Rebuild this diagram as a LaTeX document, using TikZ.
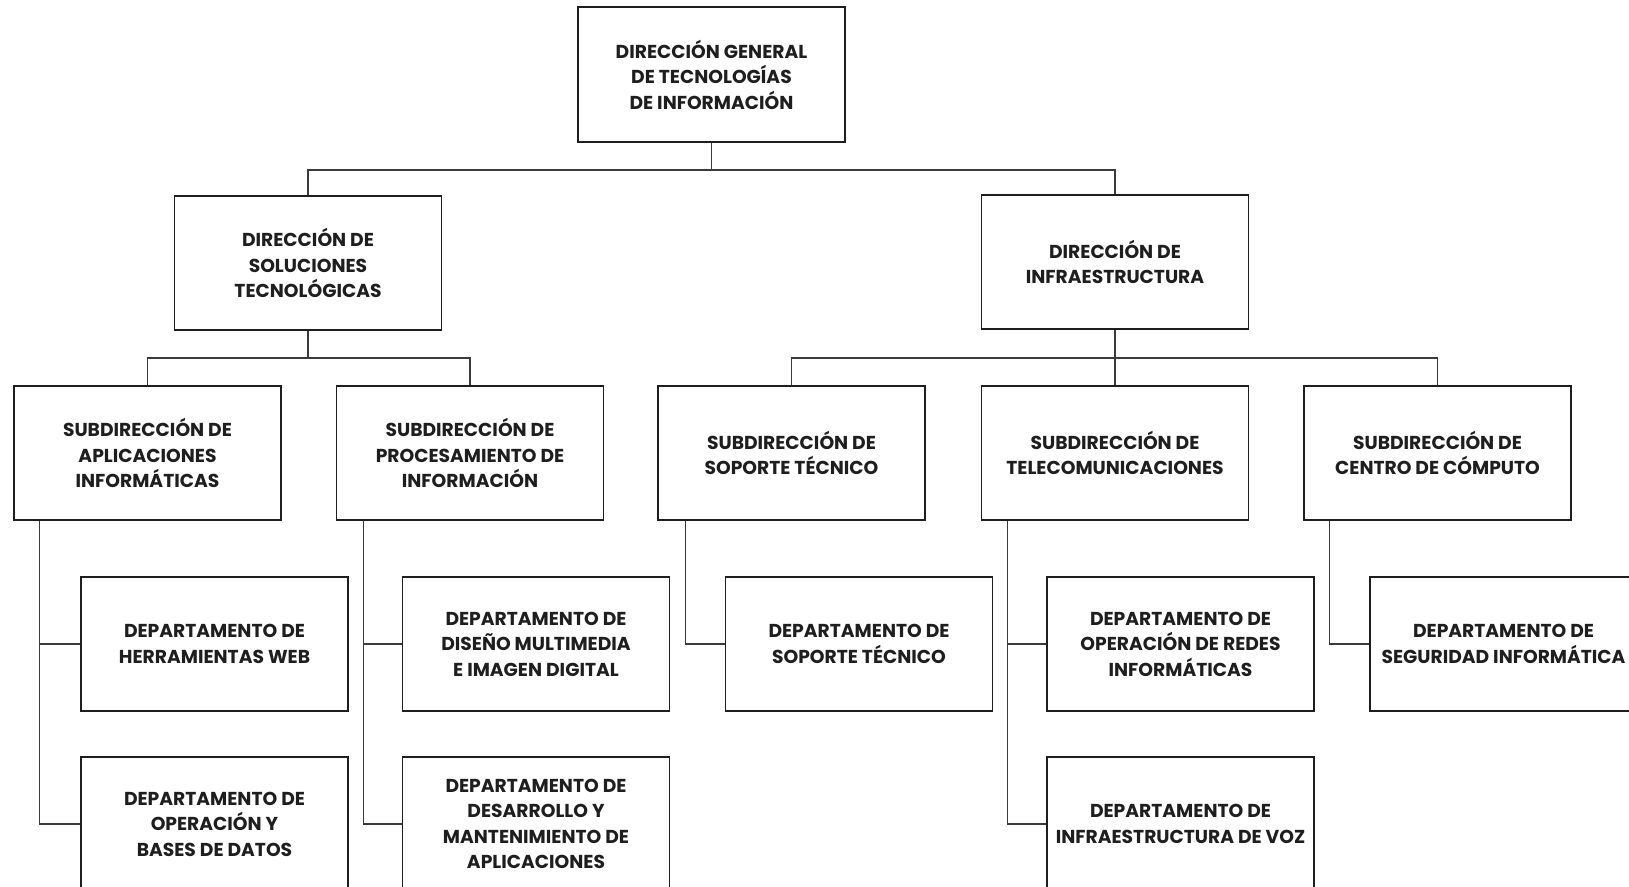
\documentclass[tikz,border=0pt]{standalone}
\usepackage{fontspec}
\setmainfont{Poppins}
\usetikzlibrary{calc}
\definecolor{ink}{HTML}{1E1E1E}
\definecolor{wire}{HTML}{3A3A3A}
\tikzset{
  box/.style={draw=ink, line width=1.5pt, minimum width=267pt, minimum height=134pt,
    inner sep=0pt, align=center, text=ink,
    font=\fontsize{18.7}{25.5}\selectfont\bfseries},
  wire/.style={draw=wire, line width=1.4pt}
}
\begin{document}
\begin{tikzpicture}[x=1pt,y=-1pt]
\useasboundingbox (0,0) rectangle (1629,886);
\clip (0,0) rectangle (1629,886);
\fill[white] (0,0) rectangle (1629,886);
% level 1
\node[box, minimum height=135pt] (top) at (711.5,74.5) {DIRECCIÓN GENERAL\\DE TECNOLOGÍAS\\DE INFORMACIÓN};
% level 2
\node[box] (dst) at (308,263) {DIRECCIÓN DE\\SOLUCIONES\\TECNOLÓGICAS};
\node[box] (din) at (1115,262) {DIRECCIÓN DE\\INFRAESTRUCTURA};
% level 3
\node[box] (s1) at (147.5,453) {SUBDIRECCIÓN DE\\APLICACIONES\\INFORMÁTICAS};
\node[box] (s2) at (470,453) {SUBDIRECCIÓN DE\\PROCESAMIENTO DE\\INFORMACIÓN};
\node[box] (s3) at (791.5,453) {SUBDIRECCIÓN DE\\SOPORTE TÉCNICO};
\node[box] (s4) at (1115,453) {SUBDIRECCIÓN DE\\TELECOMUNICACIONES};
\node[box] (s5) at (1437.5,453) {SUBDIRECCIÓN DE\\CENTRO DE CÓMPUTO};
% departments
\node[box] (d11) at (214.5,644) {DEPARTAMENTO DE\\HERRAMIENTAS WEB};
\node[box] (d12) at (214.5,824) {DEPARTAMENTO DE\\OPERACIÓN Y\\BASES DE DATOS};
\node[box] (d21) at (536,644) {DEPARTAMENTO DE\\DISEÑO MULTIMEDIA\\E IMAGEN DIGITAL};
\node[box] (d22) at (536,824) {DEPARTAMENTO DE\\DESARROLLO Y\\MANTENIMIENTO DE\\APLICACIONES};
\node[box] (d31) at (859,644) {DEPARTAMENTO DE\\SOPORTE TÉCNICO};
\node[box] (d41) at (1180.5,644) {DEPARTAMENTO DE\\OPERACIÓN DE REDES\\INFORMÁTICAS};
\node[box] (d42) at (1180.5,824) {DEPARTAMENTO DE\\INFRAESTRUCTURA DE VOZ};
\node[box] (d51) at (1503.5,644) {DEPARTAMENTO DE\\SEGURIDAD INFORMÁTICA};
% buses
\coordinate (b1) at (711.5,170);
\coordinate (b2) at (308,358);
\coordinate (b3) at (1115,358);
\draw[wire] (top.south) -- (b1);
\draw[wire] (dst.north) |- (b1) -| (din.north);
\draw[wire] (dst.south) -- (b2);
\draw[wire] (s1.north) |- (b2) -| (s2.north);
\draw[wire] (din.south) -- (s4.north);
\draw[wire] (s3.north) |- (b3) -| (s5.north);
% stems
\coordinate (t1) at ($(s1.south west)+(26,0)$);
\coordinate (t2) at ($(s2.south west)+(28,0)$);
\coordinate (t3) at ($(s3.south west)+(28,0)$);
\coordinate (t4) at ($(s4.south west)+(27,0)$);
\coordinate (t5) at ($(s5.south west)+(26,0)$);
\draw[wire] (t1) |- (d12.west);
\draw[wire] (t1 |- d11.west) -- (d11.west);
\draw[wire] (t2) |- (d22.west);
\draw[wire] (t2 |- d21.west) -- (d21.west);
\draw[wire] (t3) |- (d31.west);
\draw[wire] (t4) |- (d42.west);
\draw[wire] (t4 |- d41.west) -- (d41.west);
\draw[wire] (t5) |- (d51.west);
\end{tikzpicture}
\end{document}
